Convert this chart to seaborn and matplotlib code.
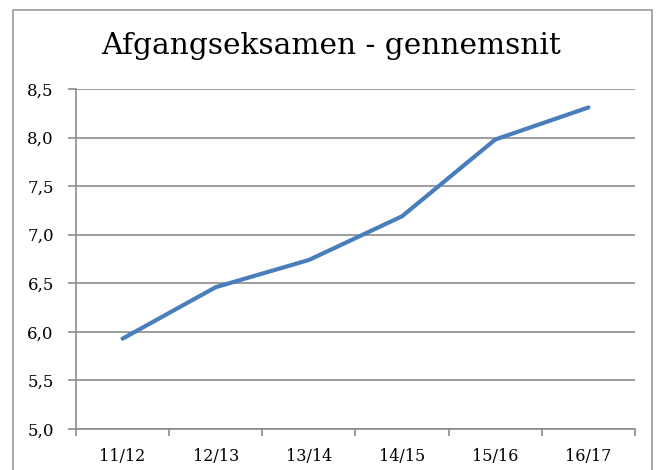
import numpy as np
import pandas as pd
import matplotlib
matplotlib.use("Agg")
import matplotlib.pyplot as plt
import seaborn as sns
from matplotlib.ticker import FuncFormatter, FixedLocator
from matplotlib.patches import Rectangle

years = ["11/12", "12/13", "13/14", "14/15", "15/16", "16/17"]
average = [5.93, 6.46, 6.74, 7.19, 7.98, 8.31]
title = "Afgangseksamen - gennemsnit"

df = pd.DataFrame({"Year": years, "Average": average})
df["pos"] = np.arange(len(years))

sns.set_style("white")
plt.rcParams["font.family"] = ["DejaVu Serif"]
plt.rcParams["text.color"] = "black"
plt.rcParams["xtick.labelcolor"] = "black"
plt.rcParams["ytick.labelcolor"] = "black"

grid_col = "#8c8c8c"
fig = plt.figure(figsize=(6.56, 4.70), dpi=100)
ax = fig.add_axes([76 / 656, 1 - 429 / 470, (635 - 76) / 656, (429 - 89) / 470])

# outer chart border (bottom edge is cut off in the original)
fig.patches.append(Rectangle((13 / 656, -0.05), (652 - 13) / 656, 1.05 - 10 / 470,
                             transform=fig.transFigure, fill=False,
                             edgecolor="#9a9a9a", linewidth=1.2))

sns.lineplot(data=df, x="pos", y="Average", ax=ax, color="#4a7ebb", linewidth=3.0,
             solid_capstyle="round")

ax.set_ylim(5.0, 8.5)
ax.set_xlim(-0.5, len(years) - 0.5)
ax.set_yticks(np.arange(5.0, 8.51, 0.5))
ax.yaxis.set_major_formatter(FuncFormatter(lambda v, p: f"{v:.1f}".replace(".", ",")))
ax.set_xticks(df["pos"])
ax.set_xticklabels(years)
ax.xaxis.set_minor_locator(FixedLocator(np.arange(-0.5, len(years), 1.0)))
ax.tick_params(axis="x", which="major", length=0, pad=14, labelsize=11.5)
ax.tick_params(axis="x", which="minor", length=5, width=1.2, color=grid_col, bottom=True)
ax.tick_params(axis="y", which="major", length=6, width=1.2, color=grid_col, pad=10,
               labelsize=12, left=True)
ax.grid(axis="y", color=grid_col, linewidth=1.2)
ax.set_axisbelow(True)
for s in ["top", "right"]:
    ax.spines[s].set_visible(False)
for s in ["left", "bottom"]:
    ax.spines[s].set_color(grid_col)
    ax.spines[s].set_linewidth(1.2)
ax.set_xlabel("")
ax.set_ylabel("")

fig.text(331 / 656, 1 - 46 / 470, title, ha="center", va="center", fontsize=21.3)

fig.savefig("out.png", dpi=100)
